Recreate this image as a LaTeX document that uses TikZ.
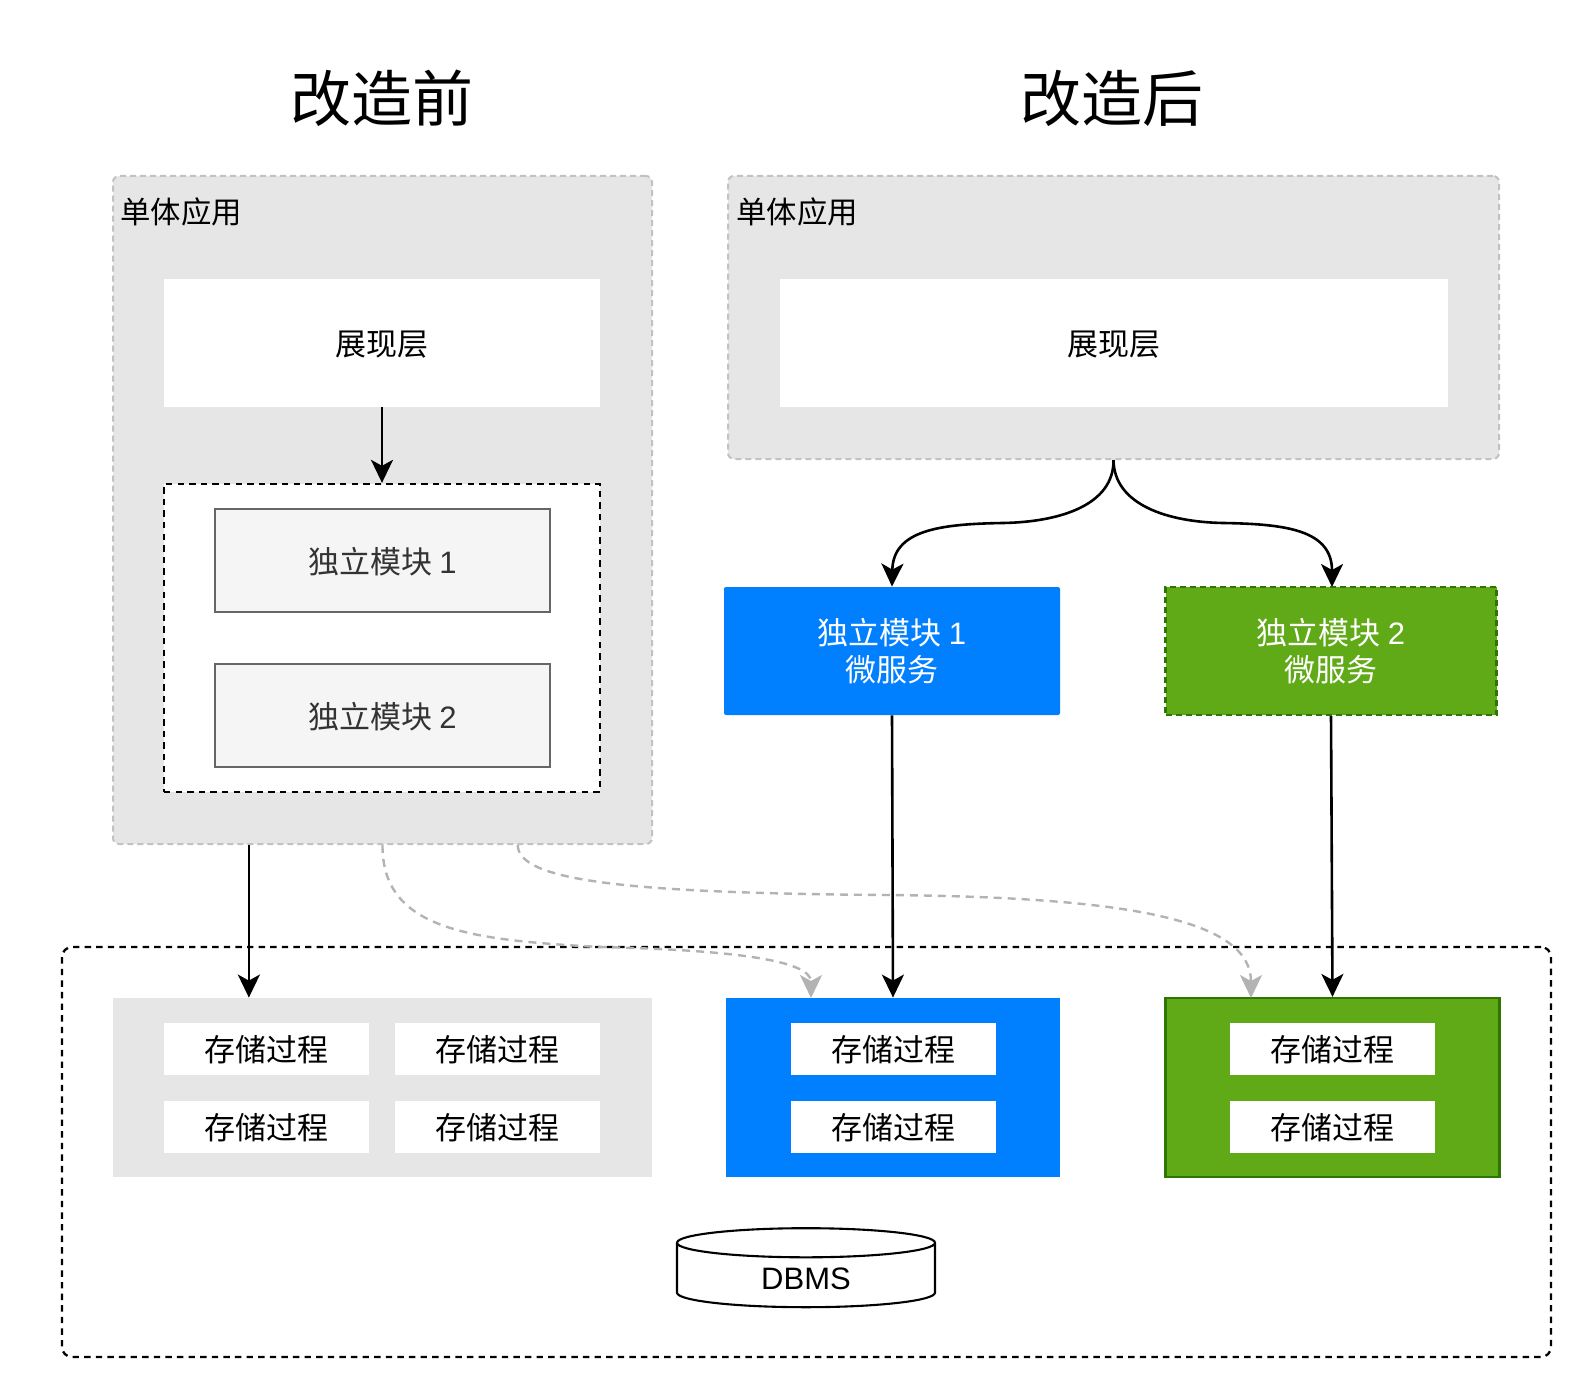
\documentclass[tikz,border=0pt]{standalone}
\usepackage{fontspec}
\setmainfont{Noto Sans CJK SC}
\newfontfamily\latfont{Liberation Sans}
\usetikzlibrary{arrows.meta,shapes.geometric,calc}
\definecolor{panelgray}{HTML}{E6E6E6}
\definecolor{edgegray}{HTML}{B3B3B3}
\definecolor{svcblue}{HTML}{007FFF}
\definecolor{svcgreen}{HTML}{60A917}
\definecolor{svcgreendark}{HTML}{2D7600}
\tikzset{
    flow/.style={line width=1.3pt,-{Stealth[length=11.5pt,width=11pt,inset=3pt]}},
    ghostflow/.style={line width=1.2pt,edgegray,dash pattern=on 4pt off 3pt,-{Stealth[length=11.5pt,width=11pt,inset=3pt]}},
    panel/.style={draw=edgegray!80,fill=panelgray,line width=1pt,dash pattern=on 3pt off 2pt,rounded corners=3pt,inner sep=0pt},
    labeltext/.style={text height=14.6pt,text depth=1.9pt,font=\fontsize{15.5}{18}\selectfont},
    whitebox/.style={fill=white,inner sep=0pt,labeltext},
    modbox/.style={draw=black!60,fill=black!4,line width=1.1pt,inner sep=0pt,text=black!80,labeltext},
    procbox/.style={whitebox,minimum width=102.5pt,minimum height=26pt},
    groupbox/.style={draw,line width=1.15pt,dash pattern=on 3.2pt off 2.6pt,inner sep=0pt},
    svcbox/.style={inner sep=0pt,minimum width=168pt,minimum height=64pt,text=white,align=center,font=\fontsize{15.5}{18}\selectfont},
    storebox/.style={inner sep=0pt,minimum height=89.5pt},
}
\begin{document}
\begin{tikzpicture}[x=0.5pt,y=-0.5pt]
    \useasboundingbox (0,0) rectangle (1584,1374);
    %% titles
    \node[font=\fontsize{30.5}{36}\selectfont] (titleold) at (382,98) {改造前};
    \node[font=\fontsize{30.5}{36}\selectfont] (titlenew) at (1112,98) {改造后};
    %% before
    \node[panel,minimum width=269.5pt,minimum height=334pt] (oldapp) at (382.5,510) {};
    \node[anchor=west,inner sep=0pt,font=\fontsize{15.2}{18}\selectfont] (oldname) at (120,212) {单体应用};
    \node[whitebox,minimum width=218pt,minimum height=64pt] (oldview) at (382,343) {展现层};
    \node[groupbox,fill=white,minimum width=218pt,minimum height=154pt] (oldgroup) at (382,638) {};
    \node[modbox,minimum width=167.5pt,minimum height=51.5pt] (oldmoda) at (382.5,560.5) {独立模块 {\latfont 1}};
    \node[modbox,minimum width=167.5pt,minimum height=51.5pt] (oldmodb) at (382.5,715.5) {独立模块 {\latfont 2}};
    %% after
    \node[panel,minimum width=385.5pt,minimum height=141.5pt] (newapp) at (1113.5,317.5) {};
    \node[anchor=west,inner sep=0pt,font=\fontsize{15.2}{18}\selectfont] (newname) at (736,212) {单体应用};
    \node[whitebox,minimum width=334pt,minimum height=64pt] (newview) at (1114,343) {展现层};
    \node[svcbox,fill=svcblue,rounded corners=1pt] (svca) at (892,651) {独立模块 {\latfont 1}\\[0.3pt]微服务};
    \node[svcbox,fill=svcgreen,draw=svcgreendark,line width=1.1pt,dash pattern=on 3pt off 2pt,minimum width=165.5pt] (svcb) at (1331,651) {独立模块 {\latfont 2}\\[0.3pt]微服务};
    %% database area
    \node[groupbox,rounded corners=5pt,minimum width=744.5pt,minimum height=205pt] (dbarea) at (806.5,1152) {};
    \node[storebox,fill=panelgray,minimum width=269.5pt] (storeold) at (382.5,1087.5) {};
    \node[storebox,fill=svcblue,minimum width=167pt] (storea) at (893,1087.5) {};
    \node[storebox,fill=svcgreen,draw=svcgreendark,line width=1.1pt,minimum width=167pt] (storeb) at (1332.5,1087.5) {};
    \foreach \name/\x/\y in {oa/266.5/1049,ob/497.5/1049,oc/266.5/1126.5,od/497.5/1126.5,aa/893/1049,ab/893/1126.5,ba/1332/1049,bb/1332/1126.5}
        \node[procbox] (proc\name) at (\x,\y) {存储过程};
    \node[draw,fill=white,cylinder,shape border rotate=90,aspect=0.325,line width=1.05pt,inner sep=0pt,minimum width=129pt,minimum height=39.5pt,text height=14pt,font=\latfont\fontsize{15.5}{18}\selectfont] (dbms) at (806,1275.5) {DBMS};
    %% free ends of the links
    \coordinate (oldleft) at ($(oldapp.south west)!0.253!(oldapp.south east)$);
    \coordinate (oldright) at ($(oldapp.south west)!0.75!(oldapp.south east)$);
    \coordinate (ghosta) at (811,998);
    \coordinate (ghostb) at (1251,998);
    %% links
    \draw[flow] (oldview.south) -- (oldgroup.north);
    \draw[flow] (oldleft) -- (oldleft |- storeold.north);
    \draw[flow] (newapp.south) .. controls (1114,505) and (1060,522) .. (1003,523) .. controls (940,524) and (893,530) .. (svca.north);
    \draw[flow] (newapp.south) .. controls (1114,505) and (1168,522) .. (1223,523) .. controls (1286,524) and (1332,530) .. (1332,587);
    \draw[flow] (svca.south) -- (storea.north);
    \draw[flow] (svcb.south) -- (storeb.north);
    \draw[ghostflow] (oldapp.south) .. controls (382,930) and (470,940) .. (600,947) .. controls (730,950) and (811,960) .. (ghosta);
    \draw[ghostflow] (oldright) .. controls (518,880) and (620,893) .. (885,895) .. controls (1130,897) and (1251,920) .. (ghostb);
\end{tikzpicture}
\end{document}
